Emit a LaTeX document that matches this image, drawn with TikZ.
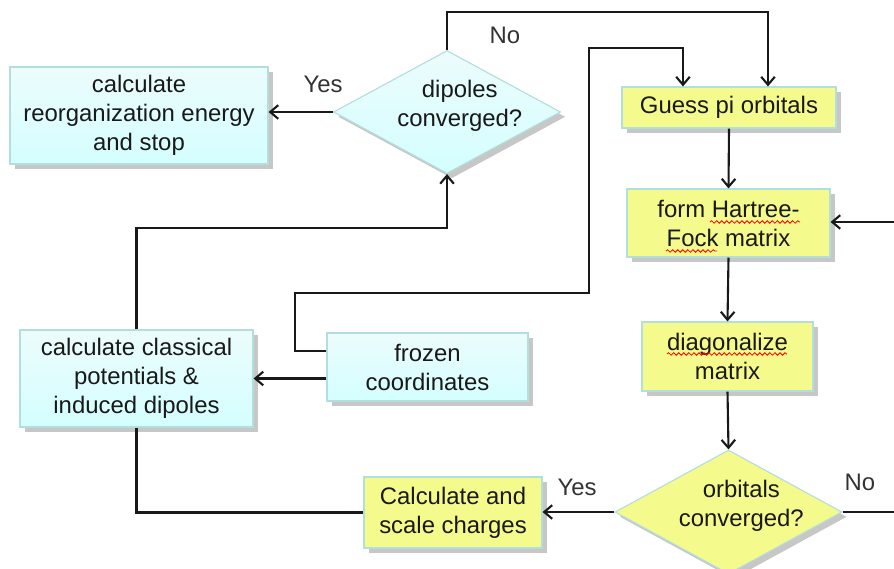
\documentclass[tikz,border=0pt]{standalone}
\usepackage{fontspec}
\setmainfont{Liberation Sans}
\usepackage{tikz}
\usetikzlibrary{shapes.geometric}
\usetikzlibrary{shadows}
\usetikzlibrary{arrows.meta}
\usetikzlibrary{decorations.pathmorphing}

\definecolor{cyanTop}{RGB}{236,252,252}
\definecolor{cyanBot}{RGB}{212,254,255}
\definecolor{boxYellow}{RGB}{245,250,140}
\definecolor{boxRim}{RGB}{178,222,222}

\begin{document}
\begin{tikzpicture}[x=0.025cm,y=-0.025cm,
		every node/.style={font=\fontsize{17}{20.6}\selectfont, text=black!90},
		flowbox/.style={rectangle, draw=boxRim, line width=0.8pt, align=center, inner sep=0pt,
			drop shadow={shadow xshift=0.12cm, shadow yshift=-0.12cm, fill=black!22, opacity=1}},
		bluebox/.style={flowbox, top color=cyanTop, bottom color=cyanBot},
		yellowbox/.style={flowbox, fill=boxYellow},
		decision/.style={diamond, aspect=1.85, draw=boxRim, line width=0.8pt, inner sep=0pt,
			drop shadow={shadow xshift=0.12cm, shadow yshift=-0.12cm, fill=black!22, opacity=1}},
		question/.style={align=center, xshift=0.32cm, yshift=0.15cm},
		line/.style={line width=1.5pt, black!90},
		arr/.style={line, -{Straight Barb[length=0.2cm,width=0.34cm,line width=1.5pt]}},
		answer/.style={text=black!80},
		spellwave/.style={red, line width=0.6pt, decorate, decoration={snake, amplitude=0.9pt, segment length=3.6pt}}]
		
		\useasboundingbox (0,0) rectangle (894,569);
		
		% draw the boxes
		\node[bluebox, minimum width=6.45cm, minimum height=2.425cm] (reorg) at (139,115.5) {calculate\\reorganization energy\\and stop};
		\node[decision, top color=cyanTop, bottom color=cyanBot, minimum width=5.675cm, minimum height=3.075cm,
			label={[question]center:dipoles\\converged?}] (dipoles) at (447,112) {};
		\node[yellowbox, minimum width=5.35cm, minimum height=1.025cm] (guess) at (729,107.5) {Guess pi orbitals};
		\node[yellowbox, minimum width=5.075cm, minimum height=1.7cm] (fock) at (728.5,223) {form Hartree-\\Fock matrix};
		\node[yellowbox, minimum width=4.275cm, minimum height=1.725cm] (diag) at (727.5,356.5) {diagonalize\\matrix};
		\node[decision, fill=boxYellow, minimum width=5.675cm, minimum height=3.1cm,
			label={[question]center:orbitals\\converged?}] (orbitals) at (728.5,512) {};
		\node[yellowbox, minimum width=4.45cm, minimum height=1.775cm] (charges) at (453,512.5) {Calculate and\\scale charges};
		\node[bluebox, minimum width=5.025cm, minimum height=1.7cm] (frozen) at (427.5,367) {frozen\\coordinates};
		\node[bluebox, minimum width=5.825cm, minimum height=2.425cm] (classical) at (136.5,378.5) {calculate classical\\potentials \&\\induced dipoles};
		
		% spell-check waves
		\draw[spellwave] (710,222) -- (800,222);
		\draw[spellwave] (666,251) -- (717,251);
		\draw[spellwave] (667,354) -- (787,354);
		
		% bend points and open ends
		\coordinate (noTop) at (768,12);
		\coordinate (bendA) at (295,293);
		\coordinate (bendB) at (589,48);
		\coordinate (loopUp) at (447,228);
		\coordinate (rightIn) at (894,222);
		\coordinate (rightOut) at (894,512);
		
		% dipole test
		\draw[arr] (dipoles.north) |- (noTop) -- (guess.north -| noTop);
		\node[answer] (noDip) at (505,35) {No};
		\draw[arr] (dipoles.west) -- (reorg.east |- dipoles.west);
		\node[answer] (yesDip) at (323,84) {Yes};
		
		% frozen coordinates
		\draw[arr] ([yshift=0.4cm]frozen.west) -| (bendA) -| (bendB) -| ([xshift=-1.15cm]guess.north);
		\draw[arr] (frozen.west |- classical.east) -- (classical.east);
		
		% classical part
		\draw[arr] (classical.north) |- (loopUp) -- (dipoles.south);
		\draw[line] (classical.south) |- (charges.west);
		
		% SCF loop
		\draw[arr] (guess.south) -- (fock.north);
		\draw[arr] (fock.south) -- (diag.north);
		\draw[arr] (diag.south) -- (orbitals.north);
		\draw[arr] (rightIn) -- (fock.east |- rightIn);
		\draw[arr] (orbitals.west) -- (charges.east |- orbitals.west);
		\node[answer] (yesOrb) at (577,487) {Yes};
		\draw[line] (orbitals.east) -- (rightOut);
		\node[answer] (noOrb) at (860,482) {No};
		
\end{tikzpicture}
\end{document}
